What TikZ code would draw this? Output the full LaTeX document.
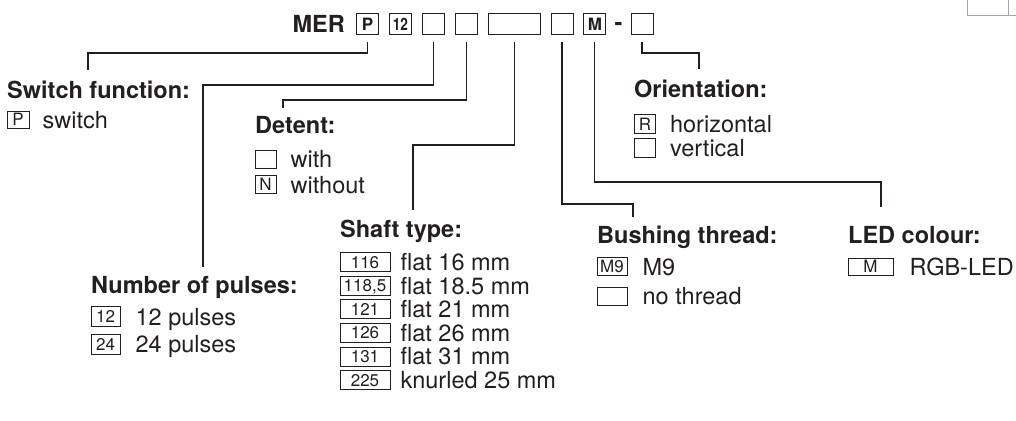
\documentclass[tikz,border=0pt]{standalone}
\usepackage{fontspec}
\setmainfont{TeX Gyre Heros}
\usetikzlibrary{positioning}
\definecolor{ink}{RGB}{35,31,32}
\definecolor{framegray}{RGB}{165,165,165}

\begin{document}
\begin{tikzpicture}[
  x=1pt, y=-1pt,
  node distance=10pt,
  every node/.style={text=ink},
  head/.style={font=\fontsize{23.5}{26}\selectfont\bfseries, inner sep=0pt, anchor=base west},
  opt/.style={font=\fontsize{23.5}{26}\selectfont, inner sep=0pt, text height=17pt, text depth=0pt},
  codebox/.style={draw=ink, line width=0.9pt, inner sep=0pt, minimum width=22pt, minimum height=21pt, font=\fontsize{17}{17}\selectfont\bfseries, text height=12.2pt, text depth=0pt},
  keybox/.style={draw=ink, line width=0.8pt, inner sep=0pt, minimum width=21pt, minimum height=18pt, font=\fontsize{17}{17}\selectfont, text height=12.2pt, text depth=0pt},
  link/.style={draw=ink, line width=1.1pt}
]
\useasboundingbox (0,0) rectangle (1016,420);

% Order code
\node[codebox, anchor=north west] (code_P) at (356,13) {P};
\node[head, left=11pt of code_P] (mer) {MER};
\node[codebox, right=of code_P] (code_12) {\scalebox{.8}[1]{12}};
\node[codebox, right=of code_12] (code_a) {};
\node[codebox, right=of code_a] (code_b) {};
\node[codebox, right=of code_b, minimum width=52pt] (code_shaft) {};
\node[codebox, right=of code_shaft] (code_c) {};
\node[codebox, right=of code_c] (code_M) {M};
\node[head, right=8pt of code_M, yshift=-2.5pt] (dash) {-};
\node[codebox, right=8pt of dash, yshift=2.5pt] (code_last) {};

% Stray frame at the corner
\draw[framegray, line width=1pt] (967,0) -- (967,16) -- (1016,16);
\draw[framegray, line width=1pt] (1008,0) -- (1008,16);

% Switch function
\node[head] (head_switch) at (7,98) {Switch function:};
\node[keybox, minimum width=22pt, minimum height=17pt] (box_P) at (18,119.5) {P};
\node[opt, right=13pt of box_P] (txt_P) {switch};

% Detent
\node[head] (head_detent) at (255,133) {Detent:};
\node[keybox] (box_with) at (265.5,159) {};
\node[keybox, below=7pt of box_with] (box_N) {N};
\node[opt, right=14pt of box_with] (txt_with) {with};
\node[opt, right=14pt of box_N] (txt_N) {without};

% Orientation
\node[head] (head_orient) at (634,97) {Orientation:};
\node[keybox, minimum height=19pt] (box_R) at (645,124) {R};
\node[keybox, minimum height=19pt, below=4pt of box_R] (box_vert) {};
\node[opt, right=14pt of box_R] (txt_R) {horizontal};
\node[opt, right=14pt of box_vert] (txt_vert) {vertical};

% Number of pulses
\node[head] (head_pulses) at (91,293) {Number of pulses:};
\node[keybox, minimum width=29pt, minimum height=20pt] (box_12) at (105.5,316.5) {12};
\node[keybox, minimum width=29pt, minimum height=20pt, below=7pt of box_12] (box_24) {24};
\node[opt, right=15pt of box_12] (txt_12) {12 pulses};
\node[opt, right=15pt of box_24] (txt_24) {24 pulses};

% Shaft type
\node[head] (head_shaft) at (340,237) {Shaft type:};
\node[keybox, minimum width=50pt, minimum height=19pt] (box_116) at (365,262) {116};
\node[keybox, minimum width=50pt, minimum height=19pt, below=3.8pt of box_116] (box_118) {118,5};
\node[keybox, minimum width=50pt, minimum height=19pt, below=3.8pt of box_118] (box_121) {121};
\node[keybox, minimum width=50pt, minimum height=19pt, below=3.8pt of box_121] (box_126) {126};
\node[keybox, minimum width=50pt, minimum height=19pt, below=3.8pt of box_126] (box_131) {131};
\node[keybox, minimum width=50pt, minimum height=19pt, below=3.8pt of box_131] (box_225) {225};
\node[opt, right=10pt of box_116] (txt_116) {flat 16 mm};
\node[opt, right=10pt of box_118] (txt_118) {flat 18.5 mm};
\node[opt, right=10pt of box_121] (txt_121) {flat 21 mm};
\node[opt, right=10pt of box_126] (txt_126) {flat 26 mm};
\node[opt, right=10pt of box_131] (txt_131) {flat 31 mm};
\node[opt, right=10pt of box_225] (txt_225) {knurled 25 mm};

% Bushing thread
\node[head] (head_bushing) at (597,243) {Bushing thread:};
\node[keybox, minimum width=30pt] (box_M9) at (612,266.5) {M9};
\node[keybox, minimum width=30pt, below=11pt of box_M9] (box_none) {};
\node[opt, right=15pt of box_M9] (txt_M9) {M9};
\node[opt, right=15pt of box_none] (txt_none) {no thread};

% LED colour
\node[head] (head_led) at (848,243) {LED colour:};
\node[keybox, minimum width=45pt, minimum height=17pt] (box_M) at (870.5,266.5) {M};
\node[opt, right=16pt of box_M] (txt_M) {RGB-LED};

% Leader ends
\coordinate (end_switch) at (88,70);
\coordinate (end_pulses) at (203,267);
\coordinate (end_detent) at (283,108);
\coordinate (end_shaft) at (413,210);
\coordinate (end_bushing) at (633,217);
\coordinate (end_led) at (881,207);
\coordinate (end_orient) at (699,69);

% Leaders
\draw[link] ([yshift=-7pt]code_P.south) -- (code_P |- 0,53) -| (end_switch);
\draw[link] ([yshift=-7pt]code_a.south) -- (code_a |- 0,85) -| (end_pulses);
\draw[link] ([yshift=-7pt]code_b.south) -- (code_b |- 0,100) -| (end_detent);
\draw[link] ([yshift=-7pt]code_shaft.south) -- (code_shaft |- 0,145) -| (end_shaft);
\draw[link] ([yshift=-7pt]code_c.south) -- (code_c |- 0,204) -| (end_bushing);
\draw[link] ([yshift=-7pt]code_M.south) -- (code_M |- 0,182) -| (end_led);
\draw[link] ([yshift=-7pt]code_last.south) -- (code_last |- 0,53) -| (end_orient);

\end{tikzpicture}
\end{document}
